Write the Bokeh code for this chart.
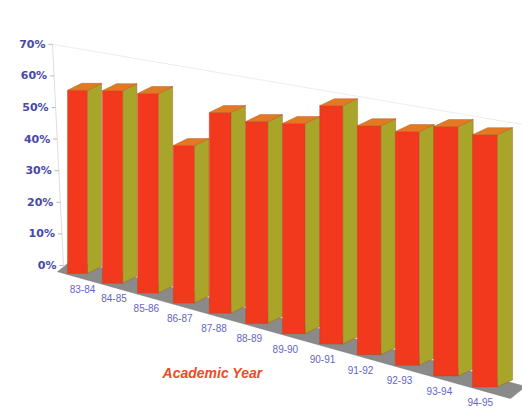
import numpy as np
from bokeh.plotting import figure
from bokeh.models import Range1d, ColumnDataSource
from bokeh.core.properties import value
from bokeh.embed import file_html
from bokeh.resources import INLINE

# ---------------- data ----------------
years = ["83-84", "84-85", "85-86", "86-87", "87-88", "88-89",
         "89-90", "90-91", "91-92", "92-93", "93-94", "94-95"]
rates = [55.5, 56.5, 56.7, 43.4, 53.6, 52.3, 52.9, 58.3, 54.4, 54.0, 56.1, 55.2]
y_ticks = [0, 10, 20, 30, 40, 50, 60, 70]
y_tick_labels = ["0%", "10%", "20%", "30%", "40%", "50%", "60%", "70%"]
x_title = "Academic Year"

# ---------------- pseudo-3D projection constants ----------------
W, H = 522, 410
WALL_ZERO_PX = 265.0      # screen row of 0% on the back wall
WALL_PX_PER_PCT = 3.16    # wall scale


def to_y(py):
    """screen row -> percent units of the wall scale"""
    return (WALL_ZERO_PX - np.asarray(py, dtype=float)) / WALL_PX_PER_PCT


p = figure(width=W, height=H, x_range=Range1d(0, W),
           y_range=Range1d(float(to_y(H)), float(to_y(0))),
           output_backend="svg", toolbar_location=None,
           x_axis_location=None, y_axis_location=None, min_border=0)
p.grid.visible = False
p.outline_line_color = None
p.background_fill_color = "white"
p.border_fill_color = "white"

n = len(years)
i = np.arange(n)
xl = 67 + 34.65 * i + 0.197 * i ** 2         # front-face left edge
w = 20 + 0.45 * i                             # front-face width
sd = 14 + 0.1 * i                             # visible side depth
dz = 7.0                                      # depth rise
FLOOR_SLOPE = 0.28
yb = 273 + FLOOR_SLOPE * (xl - 67)            # front bottom row
k = 3.3 * (1 + 0.00095 * (xl - 67))           # px per percent at bar depth
yt = yb - np.array(rates) * k                 # front top row


def floor_row(x):
    return 274 + FLOOR_SLOPE * (np.asarray(x, dtype=float) - 67)


# back wall (faint)
wall_x = lambda t: 52 + (70 - np.asarray(t, dtype=float)) / 70 * 11
p.line(x=[wall_x(70), wall_x(0)], y=[70, 0], line_color="#dedede", line_width=1)
p.line(x=[wall_x(70), 522], y=[70, float(to_y(124))], line_color="#ececec", line_width=1)

# floor
fx0, fx1 = 57.0, 510.0
p.patch(x=[fx0, fx1, fx1 + 15, fx0 + 15],
        y=list(to_y([floor_row(fx0), floor_row(fx1), floor_row(fx1) - 12, floor_row(fx0) - 12])),
        fill_color="#8a8a8a", line_color="#7a7a7a", line_width=0.5)

# bars
xs, ys, fills = [], [], []
for j in range(n):
    xr = xl[j] + w[j]
    # front
    xs.append([xl[j], xr, xr, xl[j]])
    ys.append(list(to_y([yb[j], yb[j], yt[j], yt[j]])))
    fills.append("#f2391d")
    # side
    xs.append([xr, xr + sd[j], xr + sd[j], xr])
    ys.append(list(to_y([yb[j], yb[j] - dz, yt[j] - dz, yt[j]])))
    fills.append("#a9a42a")
    # top
    xs.append([xl[j], xr, xr + sd[j], xl[j] + sd[j]])
    ys.append(list(to_y([yt[j], yt[j], yt[j] - dz, yt[j] - dz])))
    fills.append("#e37a22")
src = ColumnDataSource(dict(xs=xs, ys=ys, fill=fills))
p.patches(xs="xs", ys="ys", fill_color="fill", line_color="#b04a1a",
          line_width=0.4, source=src)

# y tick marks and labels along the slanted wall edge
tx = wall_x(y_ticks)
p.segment(x0=list(tx - 4), y0=y_ticks, x1=list(tx), y1=y_ticks,
          line_color="#b8b8b8", line_width=1)
p.text(x=list(tx - 7), y=y_ticks, text=y_tick_labels,
       text_font=value("DejaVu Sans"), text_font_style="bold",
       text_font_size="11px", text_color="#4848a8",
       text_align="right", text_baseline="middle")

# category labels
lx = 82 + 31.0 * i + 0.469 * i ** 2
ly = to_y(yb + 15)
p.text(x=list(lx), y=list(ly), text=years,
       text_font=value("Liberation Sans"), text_font_size="10px",
       text_color="#6464c8", text_align="center", text_baseline="middle")

# axis title
p.text(x=[212], y=[float(to_y(372))], text=[x_title],
       text_font=value("Liberation Sans"), text_font_style="bold italic",
       text_font_size="14px", text_color="#f04a28",
       text_align="center", text_baseline="middle")

open("out.html", "w").write(file_html(p, INLINE))
